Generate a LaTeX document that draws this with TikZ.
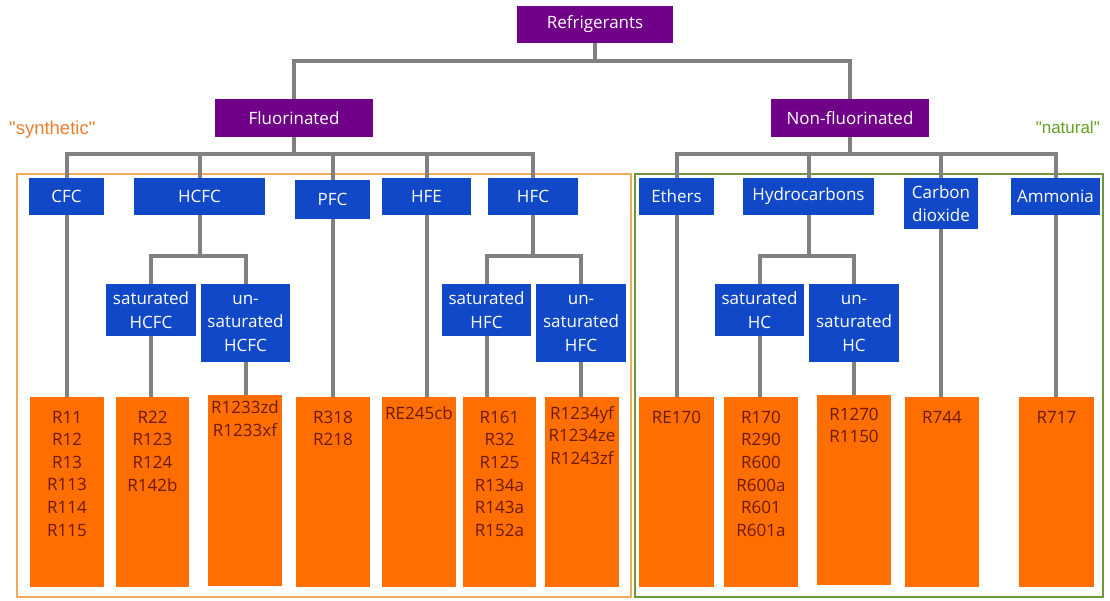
\documentclass[tikz,border=0pt]{standalone}
\usepackage{fontspec}
\setmainfont{Open Sans}
\newfontfamily\labfont{Liberation Sans}
\definecolor{purp}{RGB}{112,0,136}
\definecolor{blu}{RGB}{16,72,200}
\definecolor{org}{RGB}{255,110,0}
\definecolor{otxt}{RGB}{110,25,5}
\definecolor{gry}{RGB}{128,128,128}
\definecolor{frameorg}{RGB}{240,170,90}
\definecolor{framegrn}{RGB}{110,150,60}
\definecolor{synorg}{RGB}{235,125,45}
\definecolor{natgrn}{RGB}{100,160,40}
\tikzset{
  box/.style={rectangle, inner sep=0pt, text=white, align=center, font=\fontsize{17}{23.5}\selectfont},
  pbox/.style={box, fill=purp},
  bbox/.style={box, fill=blu},
  obox/.style={rectangle, inner sep=0pt, fill=org, minimum width=74pt, minimum height=190pt},
  otext/.style={anchor=north, inner sep=0pt, text=otxt, align=center, font=\fontsize{17}{22.6}\selectfont},
  conn/.style={draw=gry, line width=4pt},
  grp/.style={line width=1.5pt},
  lab/.style={inner sep=0pt}
}
\begin{document}
\begin{tikzpicture}[x=1pt,y=-1pt]
\useasboundingbox (0,0) rectangle (1110,601);
% group frames
\draw[grp, draw=frameorg] (17,174) rectangle (631,597);
\draw[grp, draw=framegrn] (635,174) rectangle (1103,597);
\node[lab, text=synorg, anchor=west, font=\labfont\fontsize{18.5}{18.5}\selectfont] (syn) at (9,130) {"synthetic"};
\node[lab, text=natgrn, anchor=east, font=\labfont\fontsize{17}{17}\selectfont] (nat) at (1100,127) {"natural"};
% level 0/1
\node[pbox, minimum width=156pt, minimum height=37pt] (ref) at (595,24.5) {Refrigerants};
\node[pbox, minimum width=158pt, minimum height=38pt] (flu) at (294,118) {Fluorinated};
\node[pbox, minimum width=158pt, minimum height=38pt] (non) at (850,118) {Non-fluorinated};
% level 2
\node[bbox, minimum width=75pt, minimum height=37pt] (cfc) at (66.5,196.5) {CFC};
\node[bbox, minimum width=131pt, minimum height=37pt] (hcfc) at (199.5,196.5) {HCFC};
\node[bbox, minimum width=75pt, minimum height=39pt] (pfc) at (332.5,199.5) {PFC};
\node[bbox, minimum width=89pt, minimum height=37pt] (hfe) at (426.5,196.5) {HFE};
\node[bbox, minimum width=90pt, minimum height=37pt] (hfc) at (533,196.5) {HFC};
\node[bbox, minimum width=75pt, minimum height=37pt] (eth) at (676.5,196.5) {Ethers};
\node[bbox, minimum width=131pt, minimum height=37pt] (hyd) at (808.5,196.5) {Hydrocarbons};
\node[bbox, minimum width=74pt, minimum height=51pt] (co2) at (941,203.5) {Carbon\\dioxide};
\node[bbox, minimum width=89pt, minimum height=37pt] (amm) at (1055.5,196.5) {Ammonia};
% level 3
\node[bbox, minimum width=90pt, minimum height=52pt] (shcfc) at (151,310) {saturated\\HCFC};
\node[bbox, minimum width=89pt, minimum height=78pt] (uhcfc) at (245.5,323) {un-\\saturated\\HCFC};
\node[bbox, minimum width=89pt, minimum height=52pt] (shfc) at (486.5,310) {saturated\\HFC};
\node[bbox, minimum width=90pt, minimum height=78pt] (uhfc) at (581,323) {un-\\saturated\\HFC};
\node[bbox, minimum width=89pt, minimum height=52pt] (shc) at (759.5,310) {saturated\\HC};
\node[bbox, minimum width=90pt, minimum height=78pt] (uhc) at (854,323) {un-\\saturated\\HC};
% orange boxes
\node[obox] (o1) at (67,492) {};
\node[obox, minimum width=73pt] (o2) at (152.5,492) {};
\node[obox, minimum height=191pt] (o3) at (245,490.5) {};
\node[obox] (o4) at (333,492) {};
\node[obox] (o5) at (419,492) {};
\node[obox, minimum width=73pt] (o6) at (499.5,492) {};
\node[obox] (o7) at (582,492) {};
\node[obox, minimum width=75pt] (o8) at (676.5,492) {};
\node[obox] (o9) at (761,492) {};
\node[obox] (o10) at (854,490) {};
\node[obox] (o11) at (942,492) {};
\node[obox, minimum width=75pt] (o12) at (1056.5,492) {};
% texts in orange boxes
\node[otext] (t1) at ([yshift=-14pt]o1.north) {R11\\R12\\R13\\R113\\R114\\R115};
\node[otext] (t2) at ([yshift=-14pt]o2.north) {R22\\R123\\R124\\R142b};
\node[otext] (t3) at ([yshift=-6pt]o3.north) {R1233zd\\R1233xf};
\node[otext] (t4) at ([yshift=-14pt]o4.north) {R318\\R218};
\node[otext] (t5) at ([yshift=-10pt]o5.north) {RE245cb};
\node[otext] (t6) at ([yshift=-14pt]o6.north) {R161\\R32\\R125\\R134a\\R143a\\R152a};
\node[otext] (t7) at ([yshift=-9pt]o7.north) {R1234yf\\R1234ze\\R1243zf};
\node[otext] (t8) at ([yshift=-14pt]o8.north) {RE170};
\node[otext] (t9) at ([yshift=-14pt]o9.north) {R170\\R290\\R600\\R600a\\R601\\R601a};
\node[otext] (t10) at ([yshift=-13pt]o10.north) {R1270\\R1150};
\node[otext] (t11) at ([yshift=-14pt]o11.north) {R744};
\node[otext] (t12) at ([yshift=-14pt]o12.north) {R717};
% bus coordinates
\coordinate (b0) at (595,61);
\coordinate (b1) at (294,154);
\coordinate (b2) at (850,154);
\coordinate (b3) at (199.5,256);
\coordinate (b4) at (533,256);
\coordinate (b5) at (808.5,256);
% connectors
\draw[conn] (ref.south) -- (b0);
\draw[conn] (flu.north) |- (b0) -| (non.north);
\draw[conn] (flu.south) -- (b1);
\draw[conn] (cfc.north) |- (b1) -| (hfc.north);
\draw[conn] (hcfc.north) -- (hcfc.north |- b1);
\draw[conn] (pfc.north) -- (pfc.north |- b1);
\draw[conn] (hfe.north) -- (hfe.north |- b1);
\draw[conn] (non.south) -- (b2);
\draw[conn] (eth.north) |- (b2) -| (amm.north);
\draw[conn] (hyd.north) -- (hyd.north |- b2);
\draw[conn] (co2.north) -- (co2.north |- b2);
\draw[conn] (hcfc.south) -- (b3);
\draw[conn] (shcfc.north) |- (b3) -| (uhcfc.north);
\draw[conn] (hfc.south) -- (b4);
\draw[conn] (shfc.north) |- (b4) -| (uhfc.north);
\draw[conn] (hyd.south) -- (b5);
\draw[conn] (shc.north) |- (b5) -| (uhc.north);
\draw[conn] (cfc.south) -- (cfc.south |- o1.north);
\draw[conn] (shcfc.south) -- (shcfc.south |- o2.north);
\draw[conn] (uhcfc.south) -- (uhcfc.south |- o3.north);
\draw[conn] (pfc.south) -- (pfc.south |- o4.north);
\draw[conn] (hfe.south) -- (hfe.south |- o5.north);
\draw[conn] (shfc.south) -- (shfc.south |- o6.north);
\draw[conn] (uhfc.south) -- (uhfc.south |- o7.north);
\draw[conn] (eth.south) -- (eth.south |- o8.north);
\draw[conn] (shc.south) -- (shc.south |- o9.north);
\draw[conn] (uhc.south) -- (uhc.south |- o10.north);
\draw[conn] (co2.south) -- (co2.south |- o11.north);
\draw[conn] (amm.south) -- (amm.south |- o12.north);
\end{tikzpicture}
\end{document}
